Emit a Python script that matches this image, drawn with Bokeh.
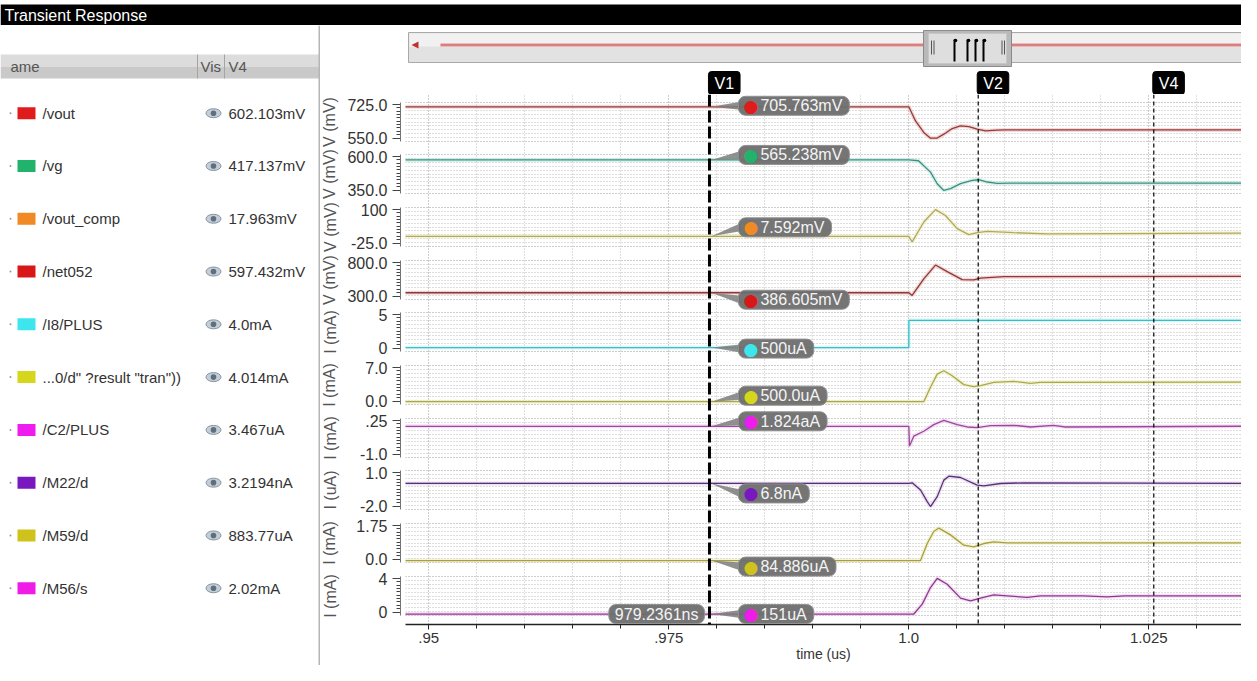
import numpy as np
from bokeh.plotting import figure
from bokeh.models import (Range1d, FixedTicker, CustomJSTickFormatter, Grid, Span, Label,
                          Spacer, ColumnDataSource)
from bokeh.layouts import row, column
from bokeh.core.properties import value
from bokeh.embed import file_html
from bokeh.resources import INLINE

FONT = "Liberation Sans"

# ------------------------------------------------------------------ data
NAMES = ["/vout", "/vg", "/vout_comp", "/net052", "/I8/PLUS", '...0/d" ?result "tran"))',
         "/C2/PLUS", "/M22/d", "/M59/d", "/M56/s"]
V4_TEXT = ["602.103mV", "417.137mV", "17.963mV", "597.432mV", "4.0mA", "4.014mA",
           "3.467uA", "3.2194nA", "883.77uA", "2.02mA"]
UNITS = ["V (mV)", "V (mV)", "V (mV)", "V (mV)", "I (mA)", "I (mA)", "I (mA)", "I (uA)",
         "I (mA)", "I (mA)"]
Y_LO = [550.0, 350.0, -25.0, 300.0, 0.0, 0.0, -1.0, -2.0, 0.0, 0.0]
Y_HI = [725.0, 600.0, 100.0, 800.0, 5.0, 7.0, 0.25, 1.0, 1.75, 4.0]
Y_LO_LABELS = ["550.0", "350.0", "-25.0", "300.0", "0", "0.0", "-1.0", "-2.0", "0.0", "0"]
Y_HI_LABELS = ["725.0", "600.0", "100", "800.0", "5", "7.0", ".25", "1.0", "1.75", "4"]

X_TICKS = [0.95, 0.975, 1.0, 1.025]
X_TICK_LABELS = [".95", ".975", "1.0", "1.025"]
X_MINOR = [0.95, 0.955, 0.96, 0.965, 0.97, 0.975, 0.98, 0.985, 0.99, 0.995, 1.0,
           1.005, 1.01, 1.015, 1.02, 1.025, 1.03]
X_LABEL = "time (us)"

CURSOR_NAMES = ["V1", "V2", "V4"]
CURSOR_T = [0.9792361, 1.00723, 1.02552]
V1_TIME_TEXT = "979.2361ns"
V1_TEXT = ["705.763mV", "565.238mV", "7.592mV", "386.605mV", "500uA", "500.0uA",
           "1.824aA", "6.8nA", "84.886uA", "151uA"]
V1_VALUES = [705.763, 565.238, 7.592, 386.605, 0.5, 0.5, 1.824e-15, 0.0068, 0.084886, 0.151]

VOUT_T = [0.947, 1.0, 1.0007, 1.00156, 1.00226, 1.00296, 1.00365, 1.00452, 1.00539, 1.00625,
          1.00713, 1.00799, 1.00921, 1.01, 1.036]
VOUT_V = [705.763, 705.763, 642.4, 590.4, 565.1, 565.5, 582.9, 608.2, 620.2, 617.1,
          605.1, 598.0, 600.6, 602.1, 602.103]
VG_T = [0.947, 1.0, 1.00101, 1.00226, 1.00296, 1.00365, 1.00434, 1.00539, 1.0066, 1.00729,
        1.00817, 1.00921, 1.0105, 1.036]
VG_V = [565.238, 565.238, 560.0, 487.1, 412.8, 369.7, 381.1, 412.8, 434.4, 438.2,
        423.6, 415.4, 417.1, 417.137]
VCOMP_T = [0.947, 1.0, 1.00035, 1.00156, 1.00278, 1.00382, 1.00504, 1.00625, 1.00713,
           1.00817, 1.01094, 1.01442, 1.036]
VCOMP_V = [7.592, 7.592, -10.1, 53.4, 93.3, 74.3, 32.1, 13.1, 19.4, 23.5, 19.4, 15.3, 17.963]
NET_T = [0.947, 1.0, 1.00035, 1.00156, 1.00278, 1.004, 1.00556, 1.00677, 1.00747, 1.0099, 1.036]
NET_V = [386.605, 386.605, 352.0, 564.0, 741.6, 656.6, 555.1, 551.3, 572.8, 592.0, 597.432]
I8_T = [0.947, 1.0, 1.00001, 1.036]
I8_V = [0.5, 0.5, 4.0, 4.0]
D0_T = [0.947, 1.00156, 1.00226, 1.00296, 1.00365, 1.00452, 1.00573, 1.00677, 1.00747,
        1.00885, 1.01094, 1.01268, 1.01372, 1.036]
D0_V = [0.5, 0.5, 3.09, 5.45, 6.06, 5.17, 3.57, 3.21, 3.39, 3.98, 4.16, 3.80, 3.98, 4.014]
C2_T = [0.947, 1.0, 1.00007, 1.00052, 1.00156, 1.0026, 1.00365, 1.00504, 1.00608, 1.00713,
        1.00851, 1.01094, 1.01268, 1.01507, 1.01632, 1.036]
C2_V = [0.0, 0.0, -0.635, -0.317, -0.159, 0.054, 0.19, 0.054, -0.022, -0.041,
        0.022, 0.032, -0.022, 0.032, -0.022, 0.0035]
M22_T = [0.947, 1.0, 1.00035, 1.00122, 1.00192, 1.00226, 1.00296, 1.00365, 1.00417, 1.00539,
         1.00713, 1.00781, 1.00955, 1.01198, 1.036]
M22_V = [0.0068, 0.0068, 0.053, -0.50, -1.39, -1.77, -1.01, 0.26, 0.56, 0.46,
         -0.12, -0.175, 0.0, 0.05, 0.0032]
M59_T = [0.947, 1.00122, 1.00192, 1.0026, 1.00313, 1.00434, 1.00573, 1.00677, 1.00781,
         1.00885, 1.01025, 1.036]
M59_V = [0.084886, 0.084886, 0.852, 1.392, 1.545, 1.24, 0.778, 0.699, 0.852, 0.930, 0.884, 0.88377]
M56_T = [0.947, 1.00052, 1.0014, 1.00226, 1.00296, 1.004, 1.00539, 1.00643, 1.00747, 1.00885,
         1.01025, 1.01233, 1.01372, 1.0182, 1.02067, 1.0225, 1.036]
M56_V = [0.151, 0.151, 1.167, 2.864, 3.81, 3.20, 1.777, 1.512, 1.777, 2.12,
         2.02, 1.85, 2.02, 2.02, 1.92, 2.02, 2.02]

SERIES_T = [VOUT_T, VG_T, VCOMP_T, NET_T, I8_T, D0_T, C2_T, M22_T, M59_T, M56_T]
SERIES_V = [VOUT_V, VG_V, VCOMP_V, NET_V, I8_V, D0_V, C2_V, M22_V, M59_V, M56_V]

# ------------------------------------------------------------------ styles / layout
SWATCH = ["#e01b1b", "#21b36b", "#f08a24", "#d81818", "#3de6ec", "#d6d61c",
          "#ee1cee", "#7a18c0", "#cfc21c", "#ee1ce6"]
LINE_COL = ["#8c3c3c", "#3f8f7f", "#b0a860", "#8a3a3a", "#3cbcc6", "#a8a850",
            "#9a4a9a", "#5a3070", "#a8a040", "#8a3a8a"]
HALO = ["#f2b0b0", "#b0e6da", "#f0eab0", "#f2b0b0", "#b8f2f4", "#eeeeb0",
        "#f2c0f2", "#dcc4ee", "#eeeab0", "#f2c0f2"]
GRID_COL = "#bdbdbd"

PAGE_W, PAGE_H = 1241, 665
TITLE_H = 25
BAR_TOP = 4
LEFT_W, AXIS_W = 320, 80
RIGHT_W = PAGE_W - LEFT_W - AXIS_W
FRAME_LEFT = LEFT_W + AXIS_W + 5
BAND_TOPS = [102, 154, 207, 260, 312, 365, 418, 470, 523, 576]
BAND_H = 39
FRAME_TOP, FRAME_BOT = 94, 624
PX_PER_US = 9600.0
X_AT_ONE = 908.3
X_RANGE = (1.0 - (X_AT_ONE - FRAME_LEFT) / PX_PER_US, 1.0 + (PAGE_W - X_AT_ONE) / PX_PER_US)
CALLOUT_DY = [1, 5, 9, -7, -1, 6, 5, -10, -6, 0]
ROW_Y0, ROW_DY = 112.7, 52.78

FMT_CODE = """
for (let i = 0; i < tv.length; i++) {
  if (Math.abs(tick - tv[i]) < 1e-9) { return tl[i]; }
}
return "";
"""


def bare(**kw):
    f = figure(output_backend="svg", toolbar_location=None, tools="",
               x_axis_location=None, y_axis_location=None, **kw)
    f.outline_line_color = None
    f.grid.visible = False
    return f


def tw(s):
    w = 0.0
    for ch in s:
        w += 4.45 if ch == "." else (5.33 if ch == "-" else 8.9)
    return w


# ------------------------------------------------------------------ title bar
title = bare(width=PAGE_W, height=TITLE_H, x_range=Range1d(0, PAGE_W), y_range=Range1d(TITLE_H, 0),
             min_border=0)
title.quad(left=0, right=PAGE_W, top=BAR_TOP, bottom=TITLE_H, fill_color="black", line_color=None)
title.text(x=[4], y=[15], text=["Transient Response"], text_color="white",
           text_font=value(FONT), text_font_size=value("16px"),
           text_baseline=value("middle"), text_align=value("left"))

# ------------------------------------------------------------------ left panel
lp = bare(width=LEFT_W, height=PAGE_H - TITLE_H, x_range=Range1d(0, LEFT_W),
          y_range=Range1d(PAGE_H, TITLE_H), min_border=0)
lp.quad(left=0, right=320, top=54, bottom=66, fill_color="#dcdcdc", line_color=None)
lp.quad(left=0, right=320, top=66, bottom=78, fill_color="#c9c9c9", line_color=None)
lp.segment(x0=[197, 224], y0=[54, 54], x1=[197, 224], y1=[78, 78], line_color="#a4a4a4")
lp.text(x=[10, 200, 228], y=[66, 66, 66], text=["ame", "Vis", "V4"], text_color="#555555",
        text_font=value(FONT), text_font_size=value("15px"),
        text_baseline=value("middle"), text_align=value("left"))
ROW_Y = [ROW_Y0 + ROW_DY * i for i in range(10)]
src = ColumnDataSource(dict(y=ROW_Y, top=[y - 6 for y in ROW_Y], bot=[y + 6 for y in ROW_Y],
                            name=NAMES, val=V4_TEXT, color=SWATCH))
lp.circle(x=10, y="y", radius=1.0, fill_color="#9a9a9a", line_color=None, source=src)
lp.quad(left=17, right=35, top="top", bottom="bot", fill_color="color", line_color=None, source=src)
lp.text(x=42, y="y", text="name", source=src, text_color="#333333", text_font=value(FONT),
        text_font_size=value("15px"), text_baseline=value("middle"), text_align=value("left"))
lp.ellipse(x=213, y="y", width=15, height=9, fill_color="#c4ced8", line_color="#8595a3", source=src)
lp.circle(x=213, y="y", radius=2.8, fill_color="#5f6f7c", line_color=None, source=src)
lp.text(x=228, y="y", text="val", source=src, text_color="#333333", text_font=value(FONT),
        text_font_size=value("15px"), text_baseline=value("middle"), text_align=value("left"))
lp.segment(x0=[319], y0=[TITLE_H], x1=[319], y1=[PAGE_H], line_color="#b5b5b5", line_width=2)

# ------------------------------------------------------------------ y-axis column
axis_figs = [Spacer(width=AXIS_W, height=BAND_TOPS[0] - 7 - TITLE_H)]
for k in range(10):
    h = (BAND_TOPS[k + 1] - BAND_TOPS[k]) if k < 9 else (7 + BAND_H + 7)
    lo, hi = Y_LO[k], Y_HI[k]
    s = BAND_H / (hi - lo)
    t_lo, t_hi = lo + 3.5 / s, hi - 2.0 / s
    f = figure(width=AXIS_W, height=h, x_range=Range1d(0, 1), y_range=Range1d(lo, hi),
               output_backend="svg", toolbar_location=None, tools="",
               x_axis_location=None, y_axis_location="left",
               min_border_left=AXIS_W - 1, min_border_right=0, min_border_top=7,
               min_border_bottom=h - 7 - BAND_H)
    f.outline_line_color = None
    f.grid.visible = False
    ax = f.yaxis[0]
    ax.ticker = FixedTicker(ticks=[t_lo, t_hi], minor_ticks=list(np.linspace(t_lo, t_hi, 11)))
    ax.formatter = CustomJSTickFormatter(args=dict(tv=[t_lo, t_hi],
                                                   tl=[Y_LO_LABELS[k], Y_HI_LABELS[k]]),
                                         code=FMT_CODE)
    ax.axis_label = UNITS[k]
    w = max(tw(Y_LO_LABELS[k]), tw(Y_HI_LABELS[k]))
    ax.axis_label_standoff = int(round(45.8 - w))
    ax.axis_label_text_font = FONT
    ax.axis_label_text_font_size = "16px"
    ax.axis_label_text_font_style = "normal"
    ax.axis_label_text_color = "#555555"
    ax.major_label_text_font = FONT
    ax.major_label_text_font_size = "16px"
    ax.major_label_text_color = "#333333"
    ax.major_label_standoff = 5
    ax.axis_line_color = "#444444"
    ax.major_tick_line_color = "#444444"
    ax.minor_tick_line_color = "#444444"
    ax.major_tick_out = 8
    ax.major_tick_in = 0
    ax.minor_tick_out = 4
    ax.minor_tick_in = 0
    axis_figs.append(f)
axis_figs.append(Spacer(width=AXIS_W, height=PAGE_H - (BAND_TOPS[9] - 7 + 7 + BAND_H + 7)))
axis_col = column(*axis_figs)

# ------------------------------------------------------------------ shared x range
xr = Range1d(*X_RANGE)

# ------------------------------------------------------------------ top strip (scrollbar + cursor tags)
top = bare(width=RIGHT_W, height=FRAME_TOP - TITLE_H, x_range=xr, y_range=Range1d(0, 1),
           min_border_left=5, min_border_right=0, min_border_top=0, min_border_bottom=0)
top.extra_x_ranges = {"ux": Range1d(FRAME_LEFT, PAGE_W)}
top.extra_y_ranges = {"uy": Range1d(FRAME_TOP, TITLE_H)}
U = dict(x_range_name="ux", y_range_name="uy")
top.quad(left=408, right=1262, top=32, bottom=62, fill_color="#e2e2e2", line_color="#a9a9a9", **U)
top.quad(left=409, right=1262, top=33, bottom=46, fill_color="#f1f1f1", line_color=None, **U)
top.segment(x0=[440], y0=[44.5], x1=[1262], y1=[44.5], line_color="#f0b8b8", line_width=4, **U)
top.segment(x0=[440], y0=[44.5], x1=[1262], y1=[44.5], line_color="#c04848", line_width=1.2, **U)
top.patch(x=[411, 418, 418], y=[44.5, 41, 48], fill_color="#c03030", line_color=None, **U)
top.quad(left=923, right=1011, top=30, bottom=66, fill_color="#b9b9b9", line_color="#8a8a8a", **U)
top.quad(left=928, right=1006, top=33, bottom=63, fill_color="#dedede", line_color="#c6c6c6", **U)
top.segment(x0=[931, 933.5, 1001.5, 1004], y0=[40] * 4, x1=[931, 933.5, 1001.5, 1004], y1=[54] * 4,
            line_color="#555555", line_width=1, **U)
top.segment(x0=[954, 967, 975, 983], y0=[39] * 4, x1=[954, 967, 975, 983], y1=[61] * 4,
            line_color="black", line_width=2, **U)
top.circle(x=[955, 968, 976, 984], y=[40] * 4, radius=1.8, fill_color="black", line_color=None, **U)
for name, t in zip(CURSOR_NAMES, CURSOR_T):
    top.add_layout(Label(x=t, y=FRAME_TOP, y_range_name="uy", text=name, x_offset=-1, y_offset=0,
                         text_align="left", text_baseline="bottom", text_color="white",
                         text_font=FONT, text_font_size="16px",
                         background_fill_color="black", border_line_color="black",
                         border_radius=3, padding=dict(left=6, right=6, top=3, bottom=3)))

# ------------------------------------------------------------------ main plot
main = figure(width=RIGHT_W, height=PAGE_H - FRAME_TOP, x_range=xr, y_range=Range1d(0, 1),
              output_backend="svg", toolbar_location=None, tools="", y_axis_location=None,
              min_border_left=5, min_border_right=0, min_border_top=0,
              min_border_bottom=PAGE_H - FRAME_BOT)
main.outline_line_color = None
main.ygrid.visible = False
main.xgrid.ticker = FixedTicker(ticks=X_TICKS, minor_ticks=X_MINOR)
main.xgrid.grid_line_color = GRID_COL
main.xgrid.grid_line_dash = "1 2"
main.xgrid.minor_grid_line_color = GRID_COL
main.xgrid.minor_grid_line_dash = "1 2"

xa = main.xaxis[0]
xa.ticker = FixedTicker(ticks=X_TICKS, minor_ticks=X_MINOR)
xa.formatter = CustomJSTickFormatter(args=dict(tv=X_TICKS, tl=X_TICK_LABELS), code=FMT_CODE)
xa.axis_label = X_LABEL
xa.axis_label_standoff = 0
xa.axis_label_text_font = FONT
xa.axis_label_text_font_size = "14px"
xa.axis_label_text_font_style = "normal"
xa.axis_label_text_color = "#333333"
xa.major_label_text_font = FONT
xa.major_label_text_font_size = "15px"
xa.major_label_text_color = "#333333"
xa.major_label_standoff = 3
xa.axis_line_color = "#222222"
xa.axis_line_width = 1.5
xa.major_tick_line_color = "#222222"
xa.minor_tick_line_color = "#222222"
xa.major_tick_out = 5
xa.major_tick_in = 0
xa.minor_tick_out = 4
xa.minor_tick_in = 0

ranges = {}
for k in range(10):
    s = BAND_H / (Y_HI[k] - Y_LO[k])
    end = Y_HI[k] + (BAND_TOPS[k] - FRAME_TOP) / s
    start = Y_LO[k] - (FRAME_BOT - (BAND_TOPS[k] + BAND_H)) / s
    ranges[f"s{k}"] = Range1d(start, end)
main.extra_y_ranges = ranges

for k in range(10):
    minors = list(np.linspace(Y_LO[k], Y_HI[k], 11))
    g = Grid(dimension=1, y_range_name=f"s{k}",
             ticker=FixedTicker(ticks=[Y_LO[k], Y_HI[k]], minor_ticks=minors),
             grid_line_color=GRID_COL, grid_line_dash="1 2",
             minor_grid_line_color=GRID_COL, minor_grid_line_dash="1 2")
    main.add_layout(g)

for k in range(10):
    main.line(SERIES_T[k], SERIES_V[k], y_range_name=f"s{k}", line_color=HALO[k],
              line_width=4, line_alpha=0.5)
    main.line(SERIES_T[k], SERIES_V[k], y_range_name=f"s{k}", line_color=LINE_COL[k],
              line_width=1.3)

main.add_layout(Span(location=CURSOR_T[0], dimension="height", line_color="black",
                     line_width=3, line_dash="12 4"))
for t in CURSOR_T[1:]:
    main.add_layout(Span(location=t, dimension="height", line_color="black",
                         line_width=1.2, line_dash="4 3"))

t1 = CURSOR_T[0]
for k in range(10):
    s = BAND_H / (Y_HI[k] - Y_LO[k])
    v = V1_VALUES[k]
    dy = CALLOUT_DY[k]
    main.patch(x=[t1 + 2 / PX_PER_US, t1 + 31 / PX_PER_US, t1 + 31 / PX_PER_US],
               y=[v, v + (dy + 4) / s, v + (dy - 4) / s], y_range_name=f"s{k}",
               fill_color="#7c7c7c", line_color=None, fill_alpha=0.85)
for k in range(10):
    main.add_layout(Label(x=t1, y=V1_VALUES[k], y_range_name=f"s{k}", text=V1_TEXT[k],
                          x_offset=29, y_offset=CALLOUT_DY[k], text_align="left",
                          text_baseline="middle", text_color="#f4f4f4", text_font=FONT,
                          text_font_size="16px", background_fill_color="#6e6e6e",
                          background_fill_alpha=0.95, border_line_color="#909090",
                          border_radius=7, padding=dict(left=22, right=7, top=1, bottom=1)))
    main.add_layout(Label(x=t1, y=V1_VALUES[k], y_range_name=f"s{k}", text="\u25CF",
                          x_offset=34, y_offset=CALLOUT_DY[k], text_align="left",
                          text_baseline="middle", text_color=SWATCH[k],
                          text_font="DejaVu Sans", text_font_size="17px"))
main.add_layout(Label(x=t1, y=V1_VALUES[9], y_range_name="s9", text=V1_TIME_TEXT,
                      x_offset=-5, y_offset=0, text_align="right", text_baseline="middle",
                      text_color="#f4f4f4", text_font=FONT, text_font_size="16px",
                      background_fill_color="#6e6e6e", background_fill_alpha=0.95,
                      border_line_color="#909090", border_radius=7,
                      padding=dict(left=6, right=6, top=1, bottom=1)))

layout = column(title, row(lp, axis_col, column(top, main)))
open("out.html", "w").write(file_html(layout, INLINE))
